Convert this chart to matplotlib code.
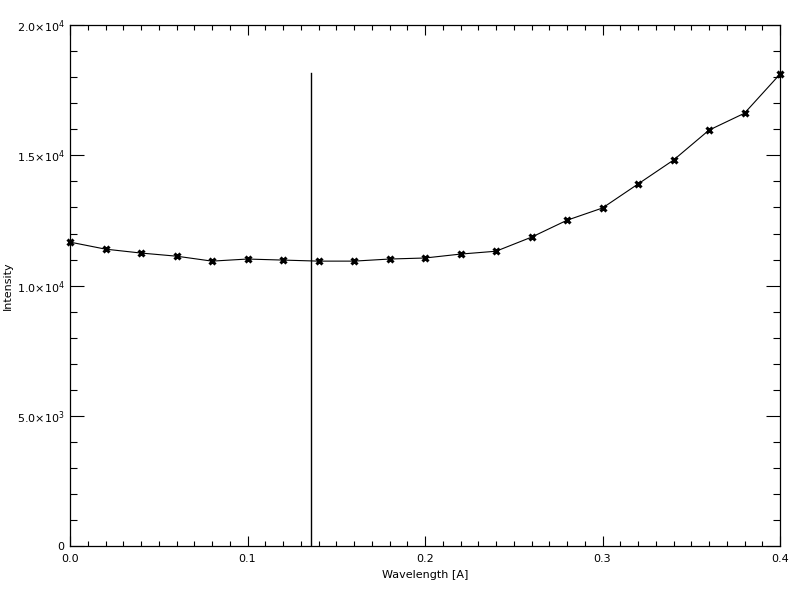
import matplotlib
matplotlib.use('Agg')
import matplotlib.pyplot as plt
from matplotlib.ticker import MultipleLocator, FixedLocator

# data
wavelength = [0.00, 0.02, 0.04, 0.06, 0.08, 0.10, 0.12, 0.14, 0.16, 0.18, 0.20,
              0.22, 0.24, 0.26, 0.28, 0.30, 0.32, 0.34, 0.36, 0.38, 0.40]
intensity = [11670, 11400, 11250, 11130, 10940, 11020, 10980, 10940, 10940, 11020, 11060,
             11210, 11320, 11860, 12510, 12980, 13900, 14820, 15970, 16620, 18120]
line_pos = 0.1358
line_top = 18160
y_ticks = [0, 5000, 10000, 15000, 20000]
y_labels = ['0', r'5.0$\times$10$^3$', r'1.0$\times$10$^4$', r'1.5$\times$10$^4$', r'2.0$\times$10$^4$']
x_ticks = [0.0, 0.1, 0.2, 0.3, 0.4]
x_labels = ['0.0', '0.1', '0.2', '0.3', '0.4']

plt.rcParams['font.family'] = 'DejaVu Sans'
plt.rcParams['mathtext.default'] = 'regular'

fig = plt.figure(figsize=(8, 6), dpi=100)
ax = fig.add_axes([0.0875, 0.09, 0.8875, 0.868])

ax.plot(wavelength, intensity, color='black', linewidth=0.8,
        marker='x', markersize=5, markeredgewidth=2.2, clip_on=False)
ax.plot([line_pos, line_pos], [0, line_top], color='black', linewidth=1)

ax.set_xlim(0, 0.4)
ax.set_ylim(0, 20000)
ax.xaxis.set_major_locator(FixedLocator(x_ticks))
ax.set_xticklabels(x_labels)
ax.xaxis.set_minor_locator(MultipleLocator(0.01))
ax.yaxis.set_major_locator(FixedLocator(y_ticks))
ax.set_yticklabels(y_labels)
ax.yaxis.set_minor_locator(MultipleLocator(1000))

ax.tick_params(which='both', direction='in', top=True, right=True, width=0.8,
               labelsize=8, pad=6)
ax.tick_params(axis='x', which='major', length=7.5)
ax.tick_params(axis='x', which='minor', length=3.8)
ax.tick_params(axis='y', which='major', length=10.2)
ax.tick_params(axis='y', which='minor', length=5.1)
ax.tick_params(axis='y', which='major', pad=4)
for s in ax.spines.values():
    s.set_linewidth(0.9)

ax.set_xlabel('Wavelength [A]', fontsize=8, labelpad=4)
# y label centred on the plot area, close to the left edge
fig.text(8 / 800, 0.524, 'Intensity', fontsize=8, rotation=90,
         ha='center', va='center')

fig.savefig('out.png', dpi=100)
